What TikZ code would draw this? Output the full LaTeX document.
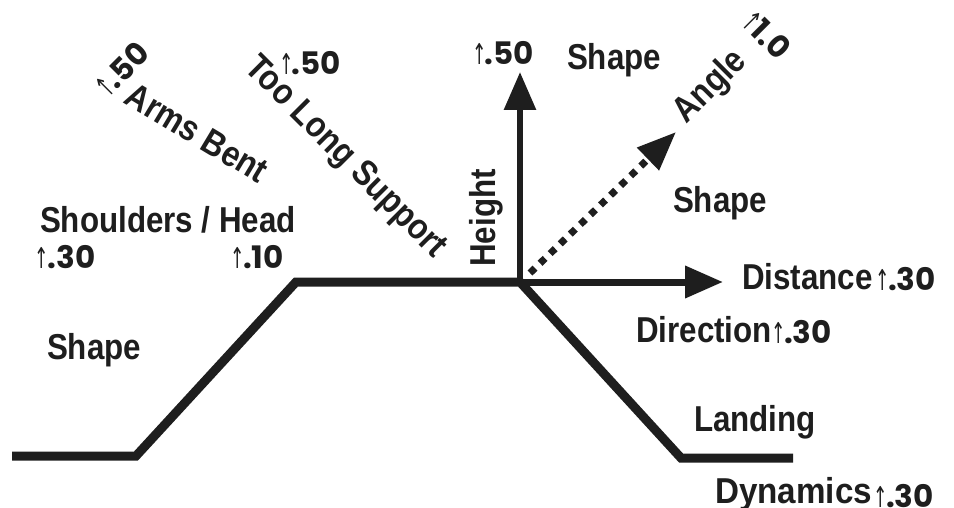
\documentclass[tikz,border=0pt]{standalone}
\usepackage{fontspec}
\usepackage{graphicx}
\setmainfont{Liberation Sans}
\newfontfamily\labfont{Liberation Sans}[FakeStretch=0.87]
\newfontfamily\numfont{Poppins}
\newfontfamily\arrfont{DejaVu Sans}
\usetikzlibrary{arrows.meta}
\definecolor{ink}{RGB}{30,30,30}
\newcommand\upar{{\arrfont\fontsize{23}{23}\selectfont\kern-0.16em\scalebox{0.75}[1.25]{↑}\kern-0.08em}}
\newcommand\val[1]{{\upar\numfont\bfseries\fontsize{31}{31}\selectfont #1}}
\tikzset{
  lab/.style={text=ink,inner sep=0pt,font=\labfont\bfseries\fontsize{36}{36}\selectfont},
  num/.style={text=ink,inner sep=0pt},
  track/.style={draw=ink,line width=9pt,line join=miter,line cap=butt},
  axis/.style={draw=ink,line width=6pt,-{Triangle[length=38pt,width=31pt]}},
  dotaxis/.style={draw=ink,line width=7pt,dash pattern=on 7pt off 7pt,-{Triangle[length=39pt,width=30pt]}}
}
\begin{document}
\begin{tikzpicture}[x=1pt,y=-1pt]
\useasboundingbox[fill=white] (0,0) rectangle (954,508);
% key points
\coordinate (s) at (12,456);
\coordinate (a) at (136,456);
\coordinate (b) at (296,282);
\coordinate (o) at (520,282);
\coordinate (c) at (681,458);
\coordinate (e) at (793,458);
\coordinate (up) at (520,72);
\coordinate (rt) at (723,282);
\coordinate (ds) at (530,273);
\coordinate (dt) at (676,132);
% track
\draw[track] (s) -- (a) -- (b) -- (o) -- (c) -- (e);
% axes
\draw[axis] (o) -- (up);
\draw[axis,line width=7pt] (o) -- (rt);
\draw[dotaxis] (ds) -- (dt);
% labels
\node[num,rotate=45] (n1) at (123,68) {\val{.50}};
\node[lab,rotate=-31] (l1) at (197,133) {Arms Bent};
\node[lab,rotate=-45] (l2) at (345,158) {Too Long Support};
\node[num] (n2) at (312,63) {\val{.50}};
\node[num] (n3) at (505,53) {\val{.50}};
\node[lab,rotate=90] (l3) at (486,218) {Height};
\node[lab] (l4) at (614,60) {Shape};
\node[lab,rotate=45] (l5) at (711,87) {Angle};
\node[num,rotate=-45] (n4) at (768,36) {\val{1.0}};
\node[lab] (l6) at (720,203) {Shape};
\node[lab,anchor=west] (l7) at (742,277) {Distance};
\node[num,anchor=west] (n5) at (879,279) {\val{.30}};
\node[lab,anchor=west] (l8) at (636,330) {Direction};
\node[num,anchor=west] (n6) at (775,332) {\val{.30}};
\node[lab] (l9) at (755,422) {Landing};
\node[lab,anchor=west,xscale=1.06] (l10) at (715,494) {Dynamics};
\node[num,anchor=west] (n7) at (877,496) {\val{.30}};
\node[lab] (l11) at (168,220) {Shoulders / Head};
\node[num] (n8) at (67,257) {\val{.30}};
\node[num] (n9) at (259,257) {\val{.10}};
\node[lab] (l12) at (94,350) {Shape};
\end{tikzpicture}
\end{document}
